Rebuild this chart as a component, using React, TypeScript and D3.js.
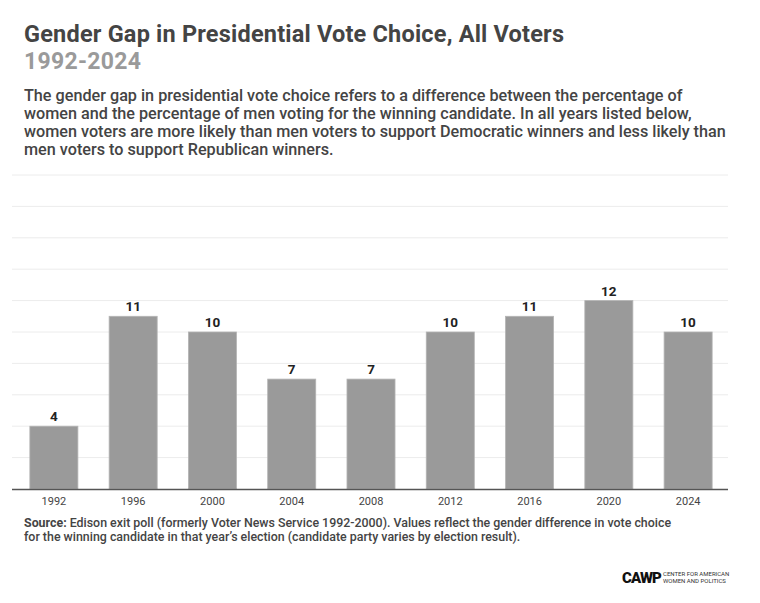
import { useEffect, useRef } from "react";
import * as d3 from "d3";

const years = ["1992", "1996", "2000", "2004", "2008", "2012", "2016", "2020", "2024"];
const gaps = [4, 11, 10, 7, 7, 10, 11, 12, 10];
const gridTicks = [0, 2, 4, 6, 8, 10, 12, 14, 16, 18, 20];

const descLines = [
  "The gender gap in presidential vote choice refers to a difference between the percentage of",
  "women and the percentage of men voting for the winning candidate. In all years listed below,",
  "women voters are more likely than men voters to support Democratic winners and less likely than",
  "men voters to support Republican winners.",
];

const App = () => {
  const svgRef = useRef<SVGSVGElement | null>(null);

  useEffect(() => {
    document.body.style.margin = "0";
    const svg = d3.select(svgRef.current);
    svg.selectAll("*").remove();

    const font = "Roboto, sans-serif";
    const margin = { top: 175, left: 12, right: 32, bottom: 114 };
    const width = 760;
    const height = 603;
    const innerWidth = width - margin.left - margin.right;
    const innerHeight = height - margin.top - margin.bottom;

    svg.append("rect").attr("width", width).attr("height", height).attr("fill", "#fff");

    // header
    svg.append("text")
      .attr("x", 24).attr("y", 41.5)
      .attr("font-family", font).attr("font-size", 23.5).attr("font-weight", 700)
      .attr("letter-spacing", 0.2)
      .attr("fill", "#444")
      .text("Gender Gap in Presidential Vote Choice, All Voters");
    svg.append("text")
      .attr("x", 24).attr("y", 69)
      .attr("font-family", font).attr("font-size", 23).attr("font-weight", 700)
      .attr("letter-spacing", 0.3)
      .attr("fill", "#9a9a9a")
      .text("1992-2024");

    const desc = svg.append("text")
      .attr("font-family", font).attr("font-size", 16.2).attr("font-weight", 500)
      .attr("fill", "#444");
    descLines.forEach((line, i) => {
      desc.append("tspan").attr("x", 24).attr("y", 101 + i * 18).text(line);
    });

    const g = svg.append("g").attr("transform", `translate(${margin.left},${margin.top})`);

    const x = d3.scaleBand<string>().domain(years).range([2, innerWidth]).paddingInner(0.394).paddingOuter(0.2);
    const y = d3.scaleLinear().domain([0, 20]).range([innerHeight, 0]);

    g.selectAll(".grid")
      .data(gridTicks.slice(1))
      .join("line")
      .attr("x1", 0).attr("x2", innerWidth)
      .attr("y1", (d) => y(d)).attr("y2", (d) => y(d))
      .attr("stroke", "#ececec").attr("stroke-width", 1);

    g.selectAll(".bar")
      .data(gaps)
      .join("rect")
      .attr("x", (_, i) => x(years[i]) ?? 0)
      .attr("y", (d) => y(d))
      .attr("width", x.bandwidth())
      .attr("height", (d) => innerHeight - y(d))
      .attr("fill", "#9a9a9a")
      .attr("stroke", "#b4b4b4").attr("stroke-width", 0.8);

    g.selectAll(".val")
      .data(gaps)
      .join("text")
      .attr("x", (_, i) => (x(years[i]) ?? 0) + x.bandwidth() / 2)
      .attr("y", (d) => y(d) - 5)
      .attr("text-anchor", "middle")
      .attr("font-family", font).attr("font-size", 13.5).attr("font-weight", 700)
      .attr("fill", "#222")
      .text((d) => d);

    const xAxis = d3.axisBottom(x).tickSize(0).tickPadding(8);
    const ax = g.append("g").attr("transform", `translate(0,${innerHeight})`).call(xAxis);
    ax.select(".domain").attr("stroke", "#555").attr("stroke-width", 1.5).attr("d", `M0,0.5H${innerWidth}`);
    ax.selectAll("text")
      .attr("font-family", font).attr("font-size", 11).attr("fill", "#444");

    // footer
    const src = svg.append("text")
      .attr("font-family", font).attr("font-size", 12.4).attr("font-weight", 500)
      .attr("fill", "#444");
    const l1 = src.append("tspan").attr("x", 24).attr("y", 527);
    l1.append("tspan").attr("font-weight", 700).text("Source:");
    l1.append("tspan").text(" Edison exit poll (formerly Voter News Service 1992-2000). Values reflect the gender difference in vote choice");
    src.append("tspan").attr("x", 24).attr("y", 541)
      .text("for the winning candidate in that year\u2019s election (candidate party varies by election result).");

    svg.append("text")
      .attr("x", 622).attr("y", 583)
      .attr("font-family", font).attr("font-size", 15).attr("font-weight", 900)
      .attr("letter-spacing", -0.9).attr("fill", "#111")
      .text("CAWP");
    const sub = svg.append("text")
      .attr("font-family", font).attr("font-size", 6).attr("fill", "#333");
    sub.append("tspan").attr("x", 663).attr("y", 576).text("CENTER FOR AMERICAN");
    sub.append("tspan").attr("x", 663).attr("y", 583).text("WOMEN AND POLITICS");
  }, []);

  return (
    <svg
      ref={svgRef}
      role="img"
      aria-label="Gender gap in presidential vote choice chart"
      width={760}
      height={603}
      style={{ display: "block" }}
    />
  );
};

export default App;
